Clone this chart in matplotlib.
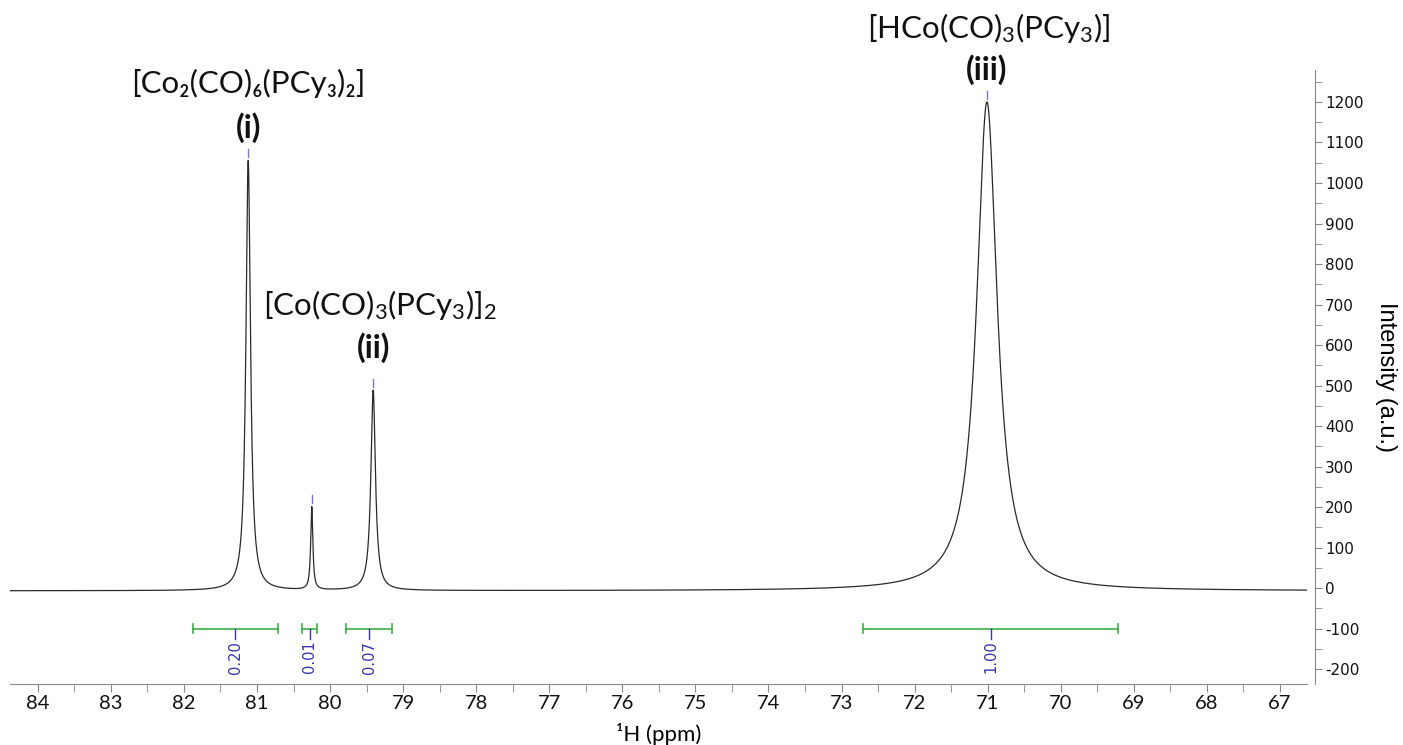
import numpy as np
import matplotlib
matplotlib.use("Agg")
import matplotlib.pyplot as plt
from matplotlib.ticker import MultipleLocator

plt.rcParams['mathtext.fontset'] = 'custom'
plt.rcParams['mathtext.rm'] = 'Lato'
plt.rcParams['mathtext.default'] = 'regular'
plt.rcParams['axes.unicode_minus'] = False

# peaks (ppm, height, line width in ppm)
peak_ppm = [81.12, 80.25, 79.41, 71.01]
peak_height = [1062, 205, 495, 1207]
peak_fwhm = [0.075, 0.035, 0.075, 0.34]
baseline = -7

# peak labels
peak_names = ["[Co\u2082(CO)\u2086(PCy\u2083)\u2082]",
              r"[Co(CO)$_3$(PCy$_3$)]$_2$",
              r"[HCo(CO)$_3$(PCy$_3$)]"]
peak_tags = ["(i)", "(ii)", "(iii)"]
labelled = [0, 2, 3]

# integrals
int_start = [81.88, 80.38, 79.78, 72.71]
int_end = [80.71, 80.18, 79.15, 69.21]
int_value = ["0.20", "0.01", "0.07", "1.00"]

x_ticks = list(range(67, 85))

# build spectrum from the peak list
ppm = np.linspace(84.38, 66.63, 5000)
spec = np.full_like(ppm, baseline, dtype=float)
for c, h, w in zip(peak_ppm, peak_height, peak_fwhm):
    hw = w / 2
    spec += h * hw**2 / ((ppm - c)**2 + hw**2)

fig = plt.figure(figsize=(14.03, 7.45), dpi=100)
ax = fig.add_axes([10/1403, 61/745, 1297/1403, 614/745])

ax.plot(ppm, spec, color="#2a2a2a", lw=0.9)
ax.set_xlim(84.38, 66.63)
ax.set_ylim(-237, 1279)

# peak markers
for i in range(len(peak_ppm)):
    top = spec[np.argmin(abs(ppm - peak_ppm[i]))]
    ax.plot([peak_ppm[i], peak_ppm[i]], [top + 8, top + 28], color="#7777cc", lw=1)

# peak labels
name_y = [1247, 699, 1383]
tag_y = [1136, 593, 1279]
name_dx = [0, 0.09, 0.02]
for k, idx in enumerate(labelled):
    ax.text(peak_ppm[idx] - name_dx[k], name_y[k], peak_names[k], ha='center', va='center',
            fontsize=22.5, family=['Lato', 'DejaVu Sans'], color='#111111')
    ax.text(peak_ppm[idx], tag_y[k], peak_tags[k], ha='center', va='center',
            fontsize=23, fontweight='bold', family=['Lato', 'DejaVu Sans'], color='#111111')

# integrals
green = "#3cb043"
blue = "#3535a8"
for s, e, v in zip(int_start, int_end, int_value):
    mid = (s + e) / 2
    ax.plot([s, e], [-100, -100], color=green, lw=1.2)
    ax.plot([s, s], [-112, -88], color=green, lw=1.2)
    ax.plot([e, e], [-112, -88], color=green, lw=1.2)
    ax.plot([mid, mid], [-100, -127], color=blue, lw=1)
    ax.text(mid, -130, v, rotation=90, ha='center', va='top', fontsize=10.5,
            color=blue, family='DejaVu Sans')

# axes styling
for side in ['top', 'left']:
    ax.spines[side].set_visible(False)
ax.spines['right'].set_position(('outward', 6))
ax.spines['right'].set_color('#888888')
ax.spines['bottom'].set_color('#888888')

ax.yaxis.tick_right()
ax.yaxis.set_label_position('right')
ax.yaxis.set_major_locator(MultipleLocator(100))
ax.yaxis.set_minor_locator(MultipleLocator(50))
ax.set_yticks(np.arange(-200, 1201, 100))
ax.tick_params(axis='y', which='both', direction='out', length=5, color='#888888',
               labelsize=11, labelcolor='#111111', pad=2)
for lab in ax.get_yticklabels():
    lab.set_family('DejaVu Sans')

ax.set_xticks(x_ticks)
ax.xaxis.set_minor_locator(MultipleLocator(0.5))
ax.tick_params(axis='x', which='both', direction='out', length=6, color='#888888',
               labelsize=14.5, labelcolor='#111111', pad=2)
for lab in ax.get_xticklabels():
    lab.set_family('Lato')

ax.set_xlabel("\u00b9H (ppm)", fontsize=16, family=['Lato', 'DejaVu Sans'], labelpad=8)
ax.set_ylabel("Intensity (a.u.)", fontsize=17, family='Liberation Sans', rotation=270,
              labelpad=24)

fig.savefig("out.png", dpi=100)
